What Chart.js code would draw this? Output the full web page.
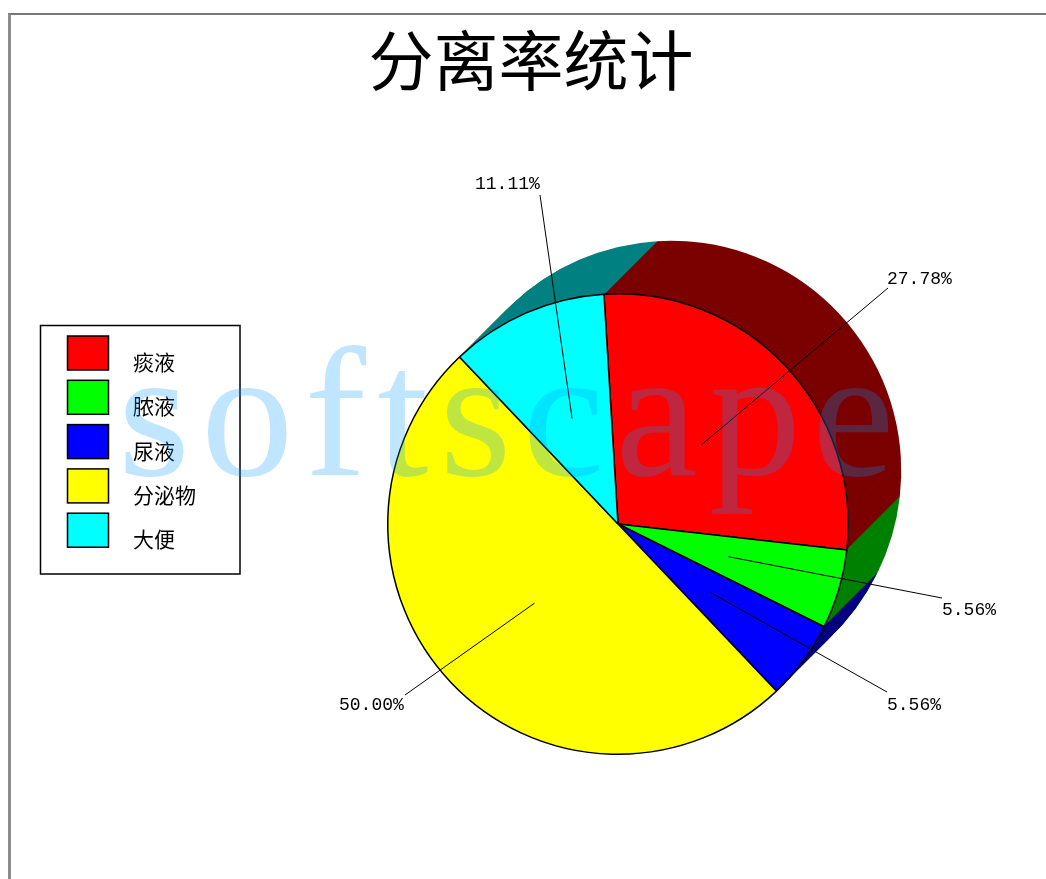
<!DOCTYPE html>
<html>
<head>
<meta charset="utf-8">
<script src="https://cdn.jsdelivr.net/npm/chart.js@4"></script>
<style>
html,body{margin:0;padding:0;background:#fff;overflow:hidden}
#frame{position:absolute;left:8px;top:13px;right:0;bottom:0;border-left:3px solid #8c8c8c;border-top:2px solid #787878;box-sizing:border-box}
#c{position:absolute;left:0;top:0}
</style>
</head>
<body>
<div id="frame"></div>
<canvas id="c" width="1046" height="879"></canvas>
<script>
const categories = ['痰液', '脓液', '尿液', '分泌物', '大便'];
const percentages = [27.78, 5.56, 5.56, 50.00, 11.11];
const sliceColors = ['#ff0000', '#00ff00', '#0000ff', '#ffff00', '#00ffff'];
const sideColors = ['#7b0000', '#008000', '#000080', '#808000', '#008080'];
const titleText = '分离率统计';
const watermarkText = 'softscape';

// Leader line end point and label box (left, centre y) for each slice, in page pixels
const leaderEnds = [[888, 288], [942, 598], [887, 692], [405, 695], [540, 195]];
const labelSpots = [[887, 279], [942, 610], [887, 705], [339, 705], [475, 184]];
const SIDE_SHIFT = 53;

const extrude = {
  id: 'extrude',
  beforeDatasetsDraw(chart) {
    const ctx = chart.ctx;
    const arcs = chart.getDatasetMeta(0).data;
    ctx.save();
    for (let t = SIDE_SHIFT; t >= 1; t--) {
      arcs.forEach((arc, i) => {
        const p = arc.getProps(['x', 'y', 'startAngle', 'endAngle', 'outerRadius'], true);
        ctx.fillStyle = sideColors[i];
        ctx.beginPath();
        ctx.moveTo(p.x + t, p.y - t);
        ctx.arc(p.x + t, p.y - t, p.outerRadius, p.startAngle, p.endAngle);
        ctx.closePath();
        ctx.fill();
      });
    }
    ctx.restore();
  }
};

const annotations = {
  id: 'annotations',
  afterDatasetsDraw(chart) {
    const ctx = chart.ctx;
    const arcs = chart.getDatasetMeta(0).data;
    ctx.save();
    ctx.strokeStyle = '#000';
    ctx.lineWidth = 1;
    ctx.fillStyle = '#000';
    ctx.font = '18px "Liberation Mono", "DejaVu Sans Mono", monospace';
    ctx.textBaseline = 'middle';
    ctx.textAlign = 'left';
    arcs.forEach((arc, i) => {
      const c = arc.getCenterPoint(true);
      ctx.beginPath();
      ctx.moveTo(c.x, c.y);
      ctx.lineTo(leaderEnds[i][0], leaderEnds[i][1]);
      ctx.stroke();
      ctx.fillText(percentages[i].toFixed(2) + '%', labelSpots[i][0], labelSpots[i][1]);
    });
    // legend
    ctx.lineWidth = 1.5;
    ctx.strokeRect(40.5, 325.5, 199.5, 248.5);
    ctx.font = '21px "Noto Sans CJK SC"';
    ctx.textBaseline = 'alphabetic';
    categories.forEach((name, i) => {
      const y = 336 + i * 44.3;
      ctx.fillStyle = sliceColors[i];
      ctx.fillRect(67.5, y, 41, 34);
      ctx.strokeRect(67.5, y, 41, 34);
      ctx.fillStyle = '#000';
      ctx.fillText(name, 133, y + 34);
    });
    ctx.restore();
  },
  afterDraw(chart) {
    const ctx = chart.ctx;
    ctx.save();
    ctx.font = '185px "Liberation Serif", serif';
    ctx.letterSpacing = '11px';
    ctx.fillStyle = 'rgba(0,150,255,0.25)';
    ctx.textAlign = 'left';
    ctx.textBaseline = 'alphabetic';
    ctx.fillText(watermarkText, 118, 475);
    ctx.restore();
  }
};

const moveTitle = {
  id: 'moveTitle',
  afterLayout(chart) {
    chart.titleBlock.left = 0;
    chart.titleBlock.right = 1062;
  }
};

new Chart(document.getElementById('c'), {
  type: 'pie',
  data: {
    labels: categories,
    datasets: [{
      data: percentages,
      backgroundColor: sliceColors,
      borderColor: '#000',
      borderWidth: 1.5
    }]
  },
  options: {
    responsive: false,
    animation: false,
    rotation: -3.5,
    layout: { padding: { left: 387, right: 197, top: 0, bottom: 124 } },
    plugins: {
      legend: { display: false },
      tooltip: { enabled: false },
      title: {
        display: true,
        text: titleText,
        color: '#000',
        font: { family: '"Noto Sans CJK SC"', size: 65, weight: 'normal', lineHeight: 1.2 },
        padding: { top: 21, bottom: 194 }
      }
    }
  },
  plugins: [extrude, annotations, moveTitle]
});
</script>
</body>
</html>
